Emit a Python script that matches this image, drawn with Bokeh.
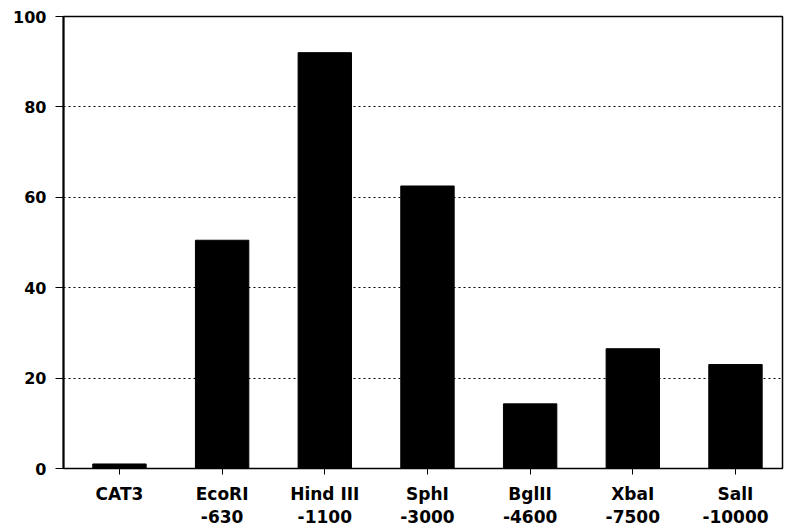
from bokeh.plotting import figure
from bokeh.models import LinearAxis, FixedTicker, Range1d, ColumnDataSource
from bokeh.embed import file_html
from bokeh.resources import INLINE

# Data
names = ["CAT3", "EcoRI", "Hind III", "SphI", "BglII", "XbaI", "SalI"]
positions = ["", "-630", "-1100", "-3000", "-4600", "-7500", "-10000"]
values = [1, 50.5, 92, 62.5, 14.3, 26.5, 23]
y_ticks = [0, 20, 40, 60, 80, 100]

xs = list(range(len(names)))
src = ColumnDataSource(dict(x=xs, top=values))

FONT = "DejaVu Sans"

p = figure(width=785, height=529, x_range=Range1d(-0.545, 6.458), y_range=Range1d(0, 100),
           x_axis_type=None, output_backend="svg", toolbar_location=None,
           min_border_left=63, min_border_right=3, min_border_top=16, min_border_bottom=0)
p.background_fill_color = "white"
p.border_fill_color = "white"
p.outline_line_color = "black"
p.outline_line_width = 1.5

p.vbar(x="x", top="top", bottom=0, width=0.52, source=src, fill_color="black", line_color="black")

# y axis
ya = p.yaxis[0]
ya.ticker = FixedTicker(ticks=y_ticks)
ya.axis_line_width = 2
ya.axis_line_color = "black"
ya.major_tick_in = 0
ya.major_tick_out = 8
ya.minor_tick_line_color = None
ya.major_label_standoff = 9
ya.major_label_text_font = FONT
ya.major_label_text_font_style = "bold"
ya.major_label_text_font_size = "16px"
ya.major_label_text_color = "black"

p.ygrid.ticker = FixedTicker(ticks=[t for t in y_ticks if 0 < t < 100])
p.ygrid.grid_line_color = "black"
p.ygrid.grid_line_dash = "2 3"
p.ygrid.grid_line_width = 1
for g in p.xgrid:
    g.grid_line_color = None

# x axes (two label lines)
ax1 = LinearAxis(ticker=FixedTicker(ticks=xs),
                 major_label_overrides={i: n for i, n in enumerate(names)})
ax1.axis_line_color = "black"
ax1.axis_line_width = 1
ax1.major_tick_in = 0
ax1.major_tick_out = 6
ax1.minor_tick_line_color = None
ax1.major_label_standoff = 9
ax1.major_label_text_font = FONT
ax1.major_label_text_font_style = "bold"
ax1.major_label_text_font_size = "17px"
ax1.major_label_text_color = "black"
p.add_layout(ax1, "below")

ax2 = LinearAxis(ticker=FixedTicker(ticks=xs),
                 major_label_overrides={i: s if s else " " for i, s in enumerate(positions)})
ax2.axis_line_color = None
ax2.major_tick_line_color = None
ax2.minor_tick_line_color = None
ax2.major_tick_in = 0
ax2.major_tick_out = 0
ax2.major_label_standoff = 0
ax2.major_label_text_font = FONT
ax2.major_label_text_font_style = "bold"
ax2.major_label_text_font_size = "17px"
ax2.major_label_text_color = "black"
p.add_layout(ax2, "below")

open("out.html", "w").write(file_html(p, INLINE))
